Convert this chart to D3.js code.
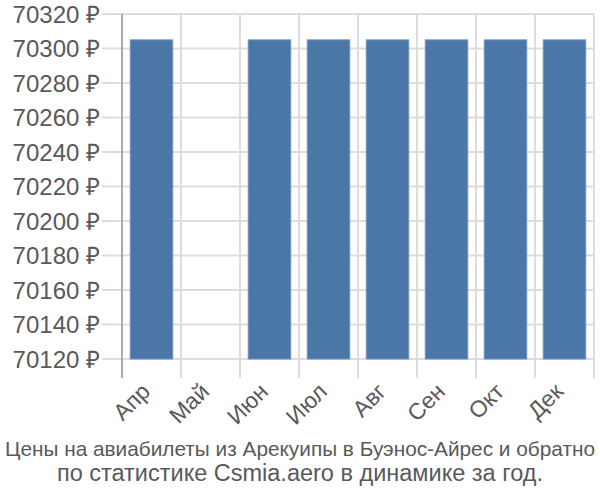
<html>
<head>
<meta charset="utf-8">
<script src="https://d3js.org/d3.v7.min.js"></script>
<style>
body { margin: 0; font-family: 'Liberation Sans', Arial, sans-serif; }
</style>
</head>
<body>
<div id="chart"></div>
<script>

var months = ["Апр", "Май", "Июн", "Июл", "Авг", "Сен", "Окт", "Дек"];
var prices = [70305, null, 70305, 70305, 70305, 70305, 70305, 70305];
var yTicks = [70120, 70140, 70160, 70180, 70200, 70220, 70240, 70260, 70280, 70300, 70320];
var titleLines = ["Цены на авиабилеты из Арекуипы в Буэнос-Айрес и обратно",
                  "по статистике Csmia.aero в динамике за год."];
var titleSizes = [20.8, 23.5];

var width = 600, height = 500;
var plotLeft = 122, plotRight = 594, plotTop = 14, plotBottom = 359;

var svg = d3.select("#chart").append("svg")
  .attr("width", width)
  .attr("height", height);

var x = d3.scaleBand().domain(months).range([plotLeft, plotRight]).padding(0);
var y = d3.scaleLinear().domain([70120, 70320]).range([plotBottom, plotTop]);

// horizontal grid + ticks
svg.selectAll(".hgrid")
  .data(yTicks)
  .enter().append("line")
  .attr("x1", plotLeft - 20)
  .attr("x2", plotRight)
  .attr("y1", d => y(d))
  .attr("y2", d => y(d))
  .style("stroke", "#dddddd")
  .style("stroke-width", 2);

// vertical grid
var bounds = months.map(m => x(m)).concat([plotRight]);
svg.selectAll(".vgrid")
  .data(bounds)
  .enter().append("line")
  .attr("x1", d => d)
  .attr("x2", d => d)
  .attr("y1", plotTop)
  .attr("y2", plotBottom + 19)
  .style("stroke", "#dddddd")
  .style("stroke-width", 2);

// left axis line
svg.append("line")
  .attr("x1", plotLeft).attr("x2", plotLeft)
  .attr("y1", plotTop).attr("y2", plotBottom + 19)
  .style("stroke", "#aaaaaa")
  .style("stroke-width", 2);

// bars
var bw = x.step() * 0.72;
svg.selectAll(".bar")
  .data(months.map((m, i) => ({m: m, v: prices[i]})).filter(d => d.v !== null))
  .enter().append("rect")
  .attr("x", d => x(d.m) + (x.step() - bw) / 2)
  .attr("y", d => y(d.v))
  .attr("width", bw)
  .attr("height", d => plotBottom - y(d.v))
  .style("fill", "#4a77a8")
  .style("stroke", "#6f92bb")
  .style("stroke-width", 1);

// y labels
svg.selectAll(".ylab")
  .data(yTicks)
  .enter().append("text")
  .attr("x", 100)
  .attr("y", d => y(d))
  .attr("dy", "0.36em")
  .attr("text-anchor", "end")
  .style("font-size", "24px")
  .style("fill", "#595959")
  .text(d => d + " ₽");

// x labels
svg.selectAll(".xlab")
  .data(months)
  .enter().append("text")
  .attr("text-anchor", "end")
  .attr("transform", d => "translate(" + (x(d) + x.step() / 2) + "," + (plotBottom + 34) + ") rotate(-45)")
  .style("font-size", "23px")
  .style("fill", "#595959")
  .text(d => d);

// title
svg.selectAll(".title")
  .data(titleLines)
  .enter().append("text")
  .attr("x", 300)
  .attr("y", (d, i) => 456 + i * 25)
  .attr("text-anchor", "middle")
  .style("font-size", (d, i) => titleSizes[i] + "px")
  .style("fill", "#595959")
  .text(d => d);

</script>
</body>
</html>
